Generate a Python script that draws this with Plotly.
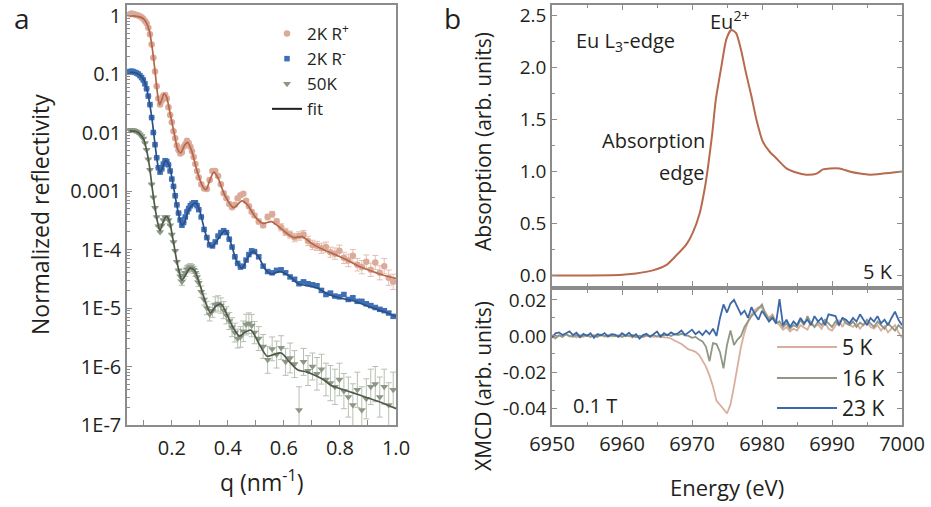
import plotly.graph_objects as go

# ---------------- Panel a : reflectivity ----------------
q_data = [0.050, 0.056, 0.062, 0.068, 0.074, 0.080, 0.086, 0.092, 0.098, 0.104,
          0.110, 0.116, 0.122, 0.128, 0.134, 0.140, 0.146, 0.152, 0.158, 0.164,
          0.170, 0.176, 0.182, 0.188, 0.194, 0.200, 0.206, 0.212, 0.218, 0.224,
          0.230, 0.236, 0.242, 0.248, 0.254, 0.260, 0.266, 0.272, 0.278, 0.284,
          0.290, 0.296,
          0.305, 0.315, 0.325, 0.335, 0.345, 0.355, 0.365, 0.375, 0.385, 0.395,
          0.405, 0.415, 0.425, 0.435, 0.445, 0.455, 0.465, 0.475, 0.485, 0.495,
          0.510, 0.526, 0.542, 0.558, 0.574, 0.590, 0.606, 0.622, 0.638, 0.654,
          0.670, 0.686, 0.702, 0.718, 0.734, 0.750, 0.766, 0.782, 0.798, 0.814,
          0.830, 0.846, 0.862, 0.878, 0.894, 0.910, 0.926, 0.942, 0.958, 0.974,
          0.990]

r_plus = [1.05, 1.08, 1.06, 1.04, 1.02, 1.00, 0.97, 0.93, 0.88, 0.81,
          0.74, 0.62, 0.48, 0.32, 0.19, 0.11, 0.062, 0.038, 0.030, 0.035,
          0.043, 0.044, 0.038, 0.027, 0.020, 0.015, 0.0105, 0.0080, 0.0060, 0.0050,
          0.0044, 0.0046, 0.0057, 0.0063, 0.0072, 0.0066, 0.0057, 0.0048, 0.0038, 0.0029,
          0.0022, 0.0017,
          0.0013, 0.00110, 0.00108, 0.00155, 0.0022, 0.0022, 0.0018, 0.0013, 0.00092, 0.00075,
          0.00060, 0.00053, 0.00058, 0.00075, 0.00085, 0.00090, 0.00068, 0.00055, 0.00044, 0.00038,
          0.00030, 0.00026, 0.00036, 0.00040, 0.00030, 0.00024, 0.00020, 0.00018, 0.00016, 0.00017,
          0.00018, 0.00014, 0.00012, 0.000115, 0.000105, 0.000110, 0.000090, 0.000085, 0.000095, 0.000072,
          0.000065, 0.000078, 0.000055, 0.000050, 0.000062, 0.000045, 0.000060, 0.000040, 0.000052, 0.000033,
          0.000028]
r_plus_err = [0.0] * 42 + [0.06] * 20 + [
    0.10, 0.10, 0.12, 0.12, 0.12, 0.15, 0.15, 0.15, 0.18, 0.18,
    0.18, 0.20, 0.20, 0.20, 0.22, 0.22, 0.22, 0.25, 0.25, 0.25,
    0.28, 0.28, 0.28, 0.30, 0.30, 0.30, 0.32, 0.32, 0.35, 0.35,
    0.35]

r_minus = [0.110, 0.112, 0.110, 0.107, 0.104, 0.100, 0.094, 0.087, 0.079, 0.068,
           0.056, 0.042, 0.030, 0.018, 0.0100, 0.0062, 0.0037, 0.0025, 0.0021, 0.0024,
           0.0029, 0.0033, 0.0032, 0.0028, 0.0022, 0.0016, 0.0012, 0.00083, 0.00058, 0.00042,
           0.00032, 0.00026, 0.00029, 0.00036, 0.00044, 0.00050, 0.00056, 0.00060, 0.00063, 0.00063,
           0.00056, 0.00048,
           0.00036, 0.00022, 0.00016, 0.00012, 0.000115, 0.000135, 0.000170, 0.000195, 0.000210, 0.000195,
           0.000150, 0.000110, 0.000075, 0.000058, 0.000050, 0.000052, 0.000066, 0.000082, 0.000095, 0.000092,
           0.000075, 0.000052, 0.000042, 0.000040, 0.000044, 0.000045, 0.000040, 0.000034, 0.000031, 0.000026,
           0.000028, 0.000026, 0.000025, 0.000024, 0.000020, 0.000017, 0.000018, 0.000016, 0.0000155, 0.000017,
           0.000014, 0.000015, 0.000013, 0.000013, 0.0000118, 0.0000110, 0.0000102, 0.0000095, 0.0000090, 0.0000082,
           0.0000072]
r_minus_err = [0.0] * 62 + [0.06] * 31

r_50k = [0.0110, 0.0112, 0.0110, 0.0107, 0.0104, 0.0100, 0.0093, 0.0087, 0.0079, 0.0066,
         0.0051, 0.0035, 0.0023, 0.00130, 0.00078, 0.00052, 0.00036, 0.00025, 0.00020, 0.00026,
         0.00032, 0.00036, 0.00036, 0.00032, 0.00026, 0.00018, 0.000135, 0.000095, 0.000062, 0.000044,
         0.000035, 0.000028, 0.000036, 0.000040, 0.000046, 0.000048, 0.000050, 0.000048, 0.000045, 0.000040,
         0.000034, 0.000027,
         0.000019, 0.000014, 0.000010, 0.0000078, 0.0000090, 0.0000115, 0.0000120, 0.0000110, 0.0000092, 0.0000075,
         0.0000060, 0.0000047, 0.0000038, 0.0000030, 0.0000032, 0.0000040, 0.0000052, 0.0000055, 0.0000050, 0.0000038,
         0.0000030, 0.0000022, 0.0000013, 0.0000020, 0.0000016, 0.0000021, 0.0000012, 0.0000014, 0.0000011, 0.00000018,
         0.0000012, 0.00000085, 0.0000010, 0.00000075, 0.0000009, 0.00000060, 0.00000052, 0.00000045, 0.00000060, 0.00000038,
         0.00000030, 0.00000022, 0.00000040, 0.00000018, 0.00000028, 0.00000045, 0.00000050, 0.00000030, 0.00000045, 0.00000022,
         0.00000040]
r_50k_err = [0.0] * 30 + [0.15] * 12 + [
    0.25, 0.25, 0.30, 0.30, 0.30, 0.35, 0.35, 0.35, 0.40, 0.40,
    0.40, 0.45, 0.45, 0.45, 0.50, 0.50, 0.50, 0.50, 0.55, 0.55,
    0.60, 0.60, 0.70, 0.60, 0.70, 0.60, 0.70, 0.80, 0.70, 1.50,
    0.70, 0.80, 0.70, 0.90, 0.80, 0.90, 1.00, 1.00, 0.90, 1.00,
    1.20, 1.30, 1.00, 1.50, 1.20, 1.00, 1.00, 1.20, 1.00, 1.40,
    1.00]

fit_q_plus = [0.05, 0.07, 0.09, 0.10, 0.11, 0.12, 0.13, 0.14, 0.15, 0.156,
              0.163, 0.172, 0.18, 0.195, 0.21, 0.222, 0.232, 0.245, 0.256, 0.27,
              0.29, 0.31, 0.322, 0.335, 0.35, 0.365, 0.39, 0.42, 0.45, 0.47,
              0.50, 0.525, 0.555, 0.58, 0.61, 0.635, 0.665, 0.70, 0.74, 0.78,
              0.82, 0.86, 0.90, 0.95, 1.00]
fit_plus = [0.98, 0.98, 0.93, 0.87, 0.74, 0.54, 0.28, 0.112, 0.042, 0.030,
            0.035, 0.046, 0.042, 0.020, 0.0089, 0.0050, 0.0045, 0.0060, 0.0068, 0.0050,
            0.0022, 0.0012, 0.00105, 0.0015, 0.0021, 0.00166, 0.00083, 0.00052, 0.00068, 0.00058,
            0.00035, 0.00028, 0.00030, 0.00025, 0.00019, 0.00016, 0.000166, 0.000126, 0.000100, 0.000083,
            0.000068, 0.000054, 0.000045, 0.000037, 0.000032]

fit_q_minus = [0.05, 0.07, 0.08, 0.09, 0.10, 0.11, 0.12, 0.13, 0.14, 0.15,
               0.158, 0.165, 0.178, 0.19, 0.205, 0.22, 0.236, 0.246, 0.26, 0.285,
               0.30, 0.32, 0.342, 0.36, 0.39, 0.41, 0.43, 0.45, 0.47, 0.49,
               0.51, 0.535, 0.555, 0.585, 0.62, 0.65, 0.685, 0.72, 0.76, 0.80,
               0.85, 0.90, 0.95, 1.00]
fit_minus = [0.107, 0.105, 0.100, 0.091, 0.079, 0.056, 0.033, 0.0158, 0.0063, 0.0028,
             0.0021, 0.0024, 0.0033, 0.00275, 0.00126, 0.00050, 0.00026, 0.00030, 0.00048, 0.00063,
             0.00045, 0.00019, 0.00011, 0.00014, 0.00021, 0.000132, 0.000066, 0.000048, 0.000071, 0.000093,
             0.000074, 0.000045, 0.000038, 0.000042, 0.000035, 0.000026, 0.000024, 0.0000219, 0.0000170, 0.0000148,
             0.0000132, 0.0000107, 0.0000089, 0.0000072]

fit_q_50k = [0.05, 0.07, 0.08, 0.09, 0.10, 0.11, 0.12, 0.13, 0.14, 0.15,
             0.158, 0.166, 0.18, 0.19, 0.205, 0.22, 0.236, 0.246, 0.265, 0.28,
             0.30, 0.32, 0.338, 0.355, 0.375, 0.40, 0.42, 0.442, 0.46, 0.482,
             0.51, 0.54, 0.56, 0.59, 0.62, 0.65, 0.68, 0.71, 0.74, 0.77,
             0.80, 0.85, 0.90, 0.95, 1.00]
fit_50k = [0.0107, 0.0105, 0.0100, 0.0089, 0.0076, 0.0050, 0.0027, 0.00112, 0.00052, 0.00028,
           0.00021, 0.000275, 0.00037, 0.00032, 0.000141, 0.000056, 0.000030, 0.0000347, 0.000048, 0.0000447,
           0.0000251, 0.0000126, 0.0000083, 0.0000105, 0.0000117, 0.0000071, 0.0000045, 0.0000033, 0.0000038, 0.0000042,
           0.0000025, 0.0000015, 0.00000158, 0.0000017, 0.0000012, 0.00000087, 0.00000081, 0.00000071, 0.00000060, 0.00000047,
           0.00000042, 0.00000035, 0.00000029, 0.00000024, 0.00000019]

refl_tickvals = [1e-7, 1e-6, 1e-5, 1e-4, 1e-3, 1e-2, 1e-1, 1.0]
refl_ticktext = ["1E-7", "1E-6", "1E-5", "1E-4", "0.001", "0.01", "0.1", "1"]
q_tickvals = [0.2, 0.4, 0.6, 0.8, 1.0]
q_ticktext = ["0.2", "0.4", "0.6", "0.8", "1.0"]

# ---------------- Panel b : absorption ----------------
energy_abs = [6950, 6959.6, 6962.0, 6964.4, 6966.3, 6967.7, 6969.2, 6970.1, 6971.1, 6971.8,
              6972.3, 6972.9, 6973.4, 6974.2, 6974.9, 6975.6, 6976.3, 6977.0, 6977.7, 6978.5,
              6979.2, 6980.1, 6981.1, 6982.0, 6983.5, 6984.9, 6986.3, 6987.8, 6988.7, 6989.7,
              6991.1, 6992.5, 6994.0, 6995.4, 6997.3, 7000]
absorption = [0.0, 0.006, 0.02, 0.05, 0.10, 0.19, 0.30, 0.41, 0.60, 0.83,
              1.05, 1.37, 1.69, 2.01, 2.27, 2.36, 2.33, 2.17, 1.95, 1.72,
              1.50, 1.29, 1.19, 1.13, 1.03, 0.99, 0.97, 0.98, 1.02, 1.03,
              1.03, 1.00, 0.98, 0.97, 0.98, 1.00]

energy_xmcd = [6950.0, 6950.5, 6951.0, 6951.5, 6952.0, 6952.5, 6953.0, 6953.5, 6954.0, 6954.5,
               6955.0, 6955.5, 6956.0, 6956.5, 6957.0, 6957.5, 6958.0, 6958.5, 6959.0, 6959.5,
               6960.0, 6960.5, 6961.0, 6961.5, 6962.0, 6962.5, 6963.0, 6963.5, 6964.0, 6964.5,
               6965.0, 6965.5, 6966.0, 6966.5, 6967.0, 6967.5, 6968.0, 6968.5, 6969.0, 6969.5,
               6970.0, 6970.5, 6971.0, 6971.5, 6972.0, 6972.5, 6973.0, 6973.5, 6974.0, 6974.5,
               6975.0, 6975.5, 6976.0, 6976.5, 6977.0, 6977.5, 6978.0, 6978.5, 6979.0, 6979.5,
               6980.0, 6980.5, 6981.0, 6981.5, 6982.0, 6982.5, 6983.0, 6983.5, 6984.0, 6984.5,
               6985.0, 6985.5, 6986.0, 6986.5, 6987.0, 6987.5, 6988.0, 6988.5, 6989.0, 6989.5,
               6990.0, 6990.5, 6991.0, 6991.5, 6992.0, 6992.5, 6993.0, 6993.5, 6994.0, 6994.5,
               6995.0, 6995.5, 6996.0, 6996.5, 6997.0, 6997.5, 6998.0, 6998.5, 6999.0, 6999.5,
               7000.0]
xmcd_5k = [-0.0005, -0.0015, 0.0005, 0.0000, 0.0008, -0.0003, 0.0002, -0.0008, 0.0005, -0.0005,
           0.0003, -0.0006, 0.0006, 0.0000, 0.0004, -0.0004, 0.0005, -0.0003, 0.0002, -0.0005,
           0.0003, -0.0002, 0.0000, -0.0008, 0.0002, -0.0004, -0.0006, 0.0001, -0.0003, -0.0005,
           -0.0002, -0.0006, -0.0008, -0.0009, -0.0014, -0.0025, -0.0035, -0.0045, -0.0060, -0.0075,
           -0.0080, -0.0088, -0.0105, -0.0135, -0.0170, -0.0220, -0.0280, -0.0360, -0.0380, -0.0405,
           -0.0430, -0.0380, -0.0280, -0.0160, -0.0060, 0.0020, 0.0080, 0.0120, 0.0145, 0.0160,
           0.0155, 0.0130, 0.0100, 0.0120, 0.0080, 0.0060, 0.0035, 0.0050, 0.0025, 0.0040,
           0.0030, 0.0060, 0.0045, 0.0035, 0.0080, 0.0050, 0.0065, 0.0040, 0.0075, 0.0040,
           0.0030, 0.0060, 0.0085, 0.0050, 0.0090, 0.0060, 0.0050, 0.0070, 0.0040, 0.0065,
           0.0080, 0.0050, 0.0040, 0.0060, 0.0030, 0.0055, 0.0020, 0.0040, 0.0060, 0.0020,
           -0.0010]
xmcd_16k = [0.0005, -0.0010, 0.0003, -0.0005, 0.0010, 0.0000, -0.0005, 0.0005, -0.0008, 0.0002,
            0.0006, -0.0004, 0.0003, -0.0006, 0.0008, 0.0000, -0.0003, 0.0005, -0.0002, 0.0004,
            -0.0006, 0.0003, 0.0000, 0.0005, -0.0007, 0.0002, -0.0005, 0.0004, 0.0000, 0.0006,
            -0.0003, 0.0005, 0.0002, 0.0008, 0.0000, 0.0010, 0.0005, 0.0012, 0.0003, 0.0000,
            -0.0010, -0.0005, -0.0020, -0.0030, -0.0060, -0.0140, -0.0040, -0.0045, -0.0090, -0.0180,
            -0.0050, 0.0030, -0.0050, -0.0020, 0.0000, 0.0050, 0.0080, 0.0110, 0.0130, 0.0150,
            0.0175, 0.0120, 0.0090, 0.0110, 0.0070, 0.0080, 0.0050, 0.0070, 0.0040, 0.0060,
            0.0050, 0.0090, 0.0060, 0.0110, 0.0070, 0.0050, 0.0080, 0.0060, 0.0090, 0.0070,
            0.0050, 0.0080, 0.0060, 0.0100, 0.0070, 0.0060, 0.0080, 0.0050, 0.0075, 0.0060,
            0.0090, 0.0070, 0.0050, 0.0080, 0.0060, 0.0040, 0.0070, 0.0050, 0.0030, 0.0060,
            0.0040]
xmcd_23k = [-0.0010, 0.0015, 0.0020, 0.0005, 0.0015, 0.0025, 0.0005, 0.0018, -0.0005, 0.0012,
            0.0000, 0.0015, -0.0010, 0.0010, 0.0003, 0.0016, -0.0002, 0.0010, 0.0008, -0.0005,
            0.0015, 0.0002, 0.0018, -0.0003, 0.0010, -0.0015, 0.0005, 0.0012, -0.0005, 0.0008,
            0.0025, -0.0005, 0.0015, 0.0003, 0.0020, 0.0008, 0.0015, 0.0030, 0.0005, 0.0020,
            0.0035, 0.0010, 0.0025, 0.0005, 0.0030, 0.0010, 0.0040, 0.0000, 0.0100, 0.0175,
            0.0130, 0.0180, 0.0200, 0.0160, 0.0120, 0.0140, 0.0100, 0.0160, 0.0120, 0.0090,
            0.0140, 0.0110, 0.0080, 0.0100, 0.0070, 0.0205, 0.0060, 0.0090, 0.0050, 0.0080,
            0.0060, 0.0100, 0.0070, 0.0090, 0.0060, 0.0110, 0.0080, 0.0100, 0.0060, 0.0120,
            0.0115, 0.0110, 0.0060, 0.0100, 0.0090, 0.0070, 0.0100, 0.0080, 0.0120, 0.0090,
            0.0060, 0.0100, 0.0080, 0.0110, 0.0070, 0.0090, 0.0060, 0.0100, 0.0135, 0.0090,
            0.0060]

# ---------------- Figure ----------------
W, H = 931, 507
FONT = "Open Sans"
TXT = "#231f20"
FRAME = "#8c8c8c"

def px_x(p):
    return p / W

def px_y(p):
    return 1 - p / H

C_PLUS, C_PLUS_FIT = "#dcaa98", "#b5664b"
C_MINUS, C_MINUS_FIT = "#3e6fb6", "#2c4f86"
C_50K, C_50K_FIT = "#8c9784", "#4f5a4a"

def log_err(vals, fr):
    up = [v * f for v, f in zip(vals, fr)]
    dn = [v * f / (1 + f) for v, f in zip(vals, fr)]
    return up, dn

fig = go.Figure()

for name, vals, errs, col, sym, size, ecol in [
        ("2K R<sup>+</sup>", r_plus, r_plus_err, C_PLUS, "circle", 6.5, "#e3bfb2"),
        ("2K R<sup>-</sup>", r_minus, r_minus_err, C_MINUS, "square", 5.5, "#8aa7d4"),
        ("50K", r_50k, r_50k_err, C_50K, "triangle-down", 7, "#b8bfb2")]:
    up, dn = log_err(vals, errs)
    fig.add_trace(go.Scatter(
        x=q_data, y=vals, mode="markers", name=name,
        marker=dict(color=col, symbol=sym, size=size, line=dict(width=0)),
        error_y=dict(type="data", array=up, arrayminus=dn, symmetric=False,
                     color=ecol, thickness=1, width=3),
        xaxis="x", yaxis="y", legend="legend"))

fig.add_trace(go.Scatter(x=[None], y=[None], mode="lines", name="fit",
                         line=dict(color="#231f20", width=2),
                         xaxis="x", yaxis="y", legend="legend"))

for fq, fv, col in [(fit_q_plus, fit_plus, C_PLUS_FIT),
                    (fit_q_minus, fit_minus, C_MINUS_FIT),
                    (fit_q_50k, fit_50k, C_50K_FIT)]:
    fig.add_trace(go.Scatter(x=fq, y=fv, mode="lines", showlegend=False,
                             line=dict(color=col, width=1.7, shape="spline", smoothing=0.8),
                             xaxis="x", yaxis="y"))

fig.add_trace(go.Scatter(x=energy_abs, y=absorption, mode="lines", showlegend=False,
                         line=dict(color="#b86a4e", width=2, shape="spline", smoothing=0.6),
                         xaxis="x2", yaxis="y2"))

XM = [("5 K", xmcd_5k, "#d9ae9f"), ("16 K", xmcd_16k, "#8e9882"), ("23 K", xmcd_23k, "#3d68a8")]
for name, vals, col in XM:
    fig.add_trace(go.Scatter(x=energy_xmcd, y=vals, mode="lines", showlegend=False,
                             line=dict(color=col, width=1.8), xaxis="x3", yaxis="y3"))

tickfont = dict(family=FONT, size=20, color=TXT)
tickfont_b = dict(family=FONT, size=19, color=TXT)
common = dict(showgrid=False, zeroline=False, showline=True, linecolor=FRAME, linewidth=1.5,
              ticks="inside", ticklen=5, tickcolor=FRAME, tickwidth=1,
              automargin=False)

dom_a_x = [px_x(127), px_x(396)]
dom_b_x = [px_x(552), px_x(902)]

minor_log = [m * 10 ** e for e in range(-7, 1) for m in range(2, 10)]

fig.update_layout(
    width=W, height=H, margin=dict(l=0, r=0, t=0, b=0, pad=0, autoexpand=False),
    paper_bgcolor="white", plot_bgcolor="white",
    font=dict(family=FONT, color=TXT),
    xaxis=dict(domain=dom_a_x, anchor="y", range=[0.04, 1.0], mirror=True,
               tickmode="array", tickvals=q_tickvals, ticktext=q_ticktext, tickfont=tickfont,
               ticklabelstandoff=4,
               minor=dict(tickmode="array", tickvals=[0.1, 0.3, 0.5, 0.7, 0.9],
                          ticks="inside", ticklen=5, tickcolor=FRAME), **common),
    yaxis=dict(domain=[px_y(425), px_y(5)], anchor="x", type="log", range=[-7, 0.18], mirror=True,
               tickmode="array", tickvals=refl_tickvals, ticktext=refl_ticktext, tickfont=tickfont,
               minor=dict(tickmode="array", tickvals=minor_log, ticks="inside", ticklen=3,
                          tickcolor=FRAME), **common),
    xaxis2=dict(domain=dom_b_x, anchor="y2", range=[6950, 7000], mirror="allticks",
                showticklabels=False, dtick=10, tick0=6950, tickfont=tickfont,
                minor=dict(dtick=5, ticks="inside", ticklen=3, tickcolor=FRAME), **common),
    yaxis2=dict(domain=[px_y(286), px_y(5)], anchor="x2", range=[-0.1, 2.6], mirror="allticks",
                dtick=0.5, tick0=0, tickformat=".1f", tickfont=tickfont_b,
                minor=dict(dtick=0.25, ticks="inside", ticklen=3, tickcolor=FRAME), **common),
    xaxis3=dict(domain=dom_b_x, anchor="y3", range=[6950, 7000], mirror="allticks",
                dtick=10, tick0=6950, tickformat="d", tickfont=tickfont,
                minor=dict(dtick=5, ticks="inside", ticklen=3, tickcolor=FRAME), **common),
    yaxis3=dict(domain=[px_y(425), px_y(290)], anchor="x3", range=[-0.0494, 0.0255], mirror="allticks",
                tickmode="array", tickvals=[-0.04, -0.02, 0.0, 0.02],
                ticktext=["-0.04", "-0.02", "0.00", "0.02"], tickfont=tickfont_b,
                minor=dict(tickmode="array", tickvals=[-0.03, -0.01, 0.01], ticks="inside",
                           ticklen=3, tickcolor=FRAME), **common),
    legend=dict(x=px_x(267), y=px_y(16), xanchor="left", yanchor="top",
                bgcolor="rgba(0,0,0,0)", font=dict(family=FONT, size=17, color=TXT),
                tracegroupgap=0, itemsizing="trace"),
)

ann = []
def add_text(text, x, y, size, xref="paper", yref="paper", xanchor="center", yanchor="middle",
             angle=0):
    ann.append(dict(text=text, x=x, y=y, xref=xref, yref=yref, xanchor=xanchor, yanchor=yanchor,
                    showarrow=False, textangle=angle,
                    font=dict(family=FONT, size=size, color=TXT)))

add_text("a", px_x(22), px_y(18), 28)
add_text("b", px_x(452), px_y(18), 28)
add_text("Normalized reflectivity", px_x(40), px_y(215), 23, angle=-90)
add_text("q (nm<sup>-1</sup>)", px_x(261), px_y(481), 23)
add_text("Energy (eV)", px_x(727), px_y(487), 22)
add_text("Absorption (arb. units)", px_x(483), px_y(142), 21, angle=-90)
add_text("XMCD (arb. units)", px_x(483), px_y(386), 21, angle=-90)

add_text("Eu L<sub>3</sub>-edge", 6953.2, 2.25, 20, xref="x2", yref="y2", xanchor="left")
add_text("Eu<sup>2+</sup>", 6975.4, 2.45, 20, xref="x2", yref="y2")
add_text("Absorption", 6972.1, 1.30, 20, xref="x2", yref="y2", xanchor="right")
add_text("edge", 6972.1, 0.99, 20, xref="x2", yref="y2", xanchor="right")
add_text("5 K", 6999.0, 0.043, 20, xref="x2", yref="y2", xanchor="right")
add_text("0.1 T", 6952.7, -0.0386, 20, xref="x3", yref="y3", xanchor="left")

# manual legend for the XMCD panel
shapes = []
for (name, _, col), ly in zip(XM, [347, 378, 408]):
    shapes.append(dict(type="line", xref="paper", yref="paper",
                       x0=px_x(777), x1=px_x(837), y0=px_y(ly), y1=px_y(ly),
                       line=dict(color=col, width=2)))
    add_text(name, px_x(840), px_y(ly), 21, xanchor="left")

fig.update_layout(annotations=ann, shapes=shapes)

fig.write_html("out.html")
